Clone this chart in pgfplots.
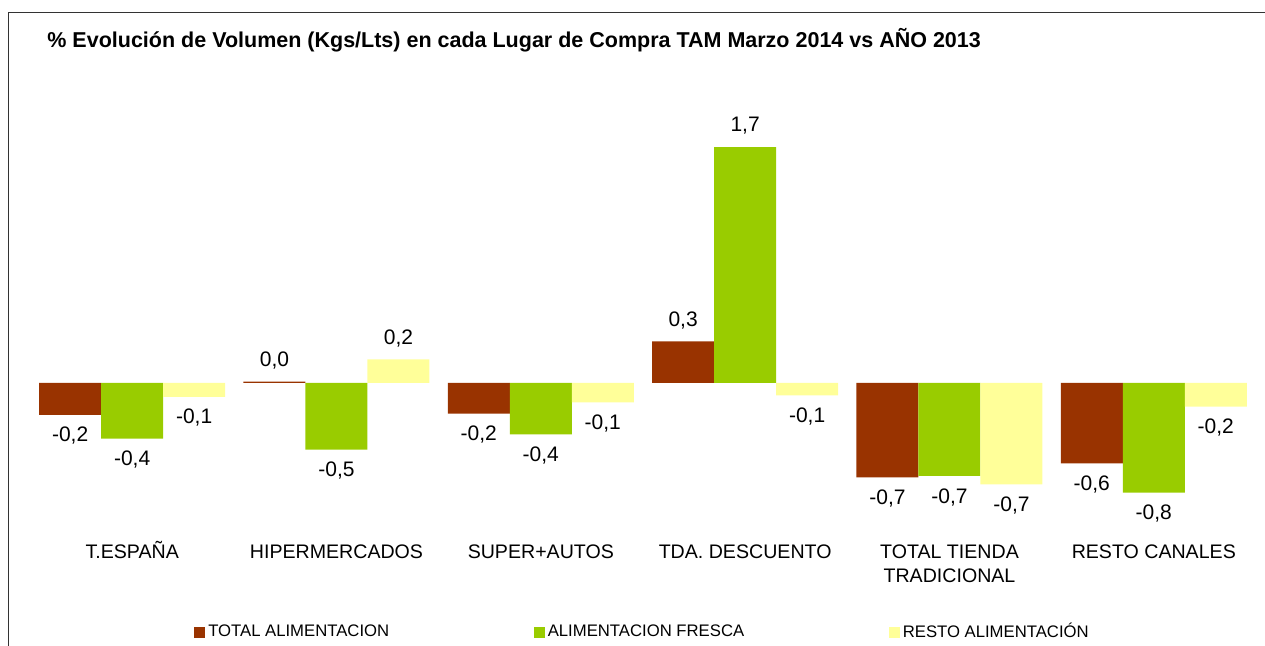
\documentclass[border=0pt]{standalone}
\usepackage{pgfplots}
\pgfplotsset{compat=1.18}
\usepackage{fontspec}
\setmainfont{Liberation Sans}
\definecolor{cbrown}{HTML}{993300}
\definecolor{cgreen}{HTML}{99CC00}
\definecolor{cyellow}{HTML}{FFFF99}
\definecolor{frame}{HTML}{333333}
\begin{document}
\begin{tikzpicture}
\path[use as bounding box] (0,0) rectangle (632.5pt,323pt);
\draw[line width=0.8pt, color=frame] (632.5pt,316.75pt) -- (4.25pt,316.75pt) -- (4.25pt,0pt);
\node[anchor=west, font=\bfseries\fontsize{10.75}{12}\selectfont, inner sep=0pt] at (23.5pt,303pt)
  {\% Evolución de Volumen (Kgs/Lts) en cada Lugar de Compra TAM Marzo 2014 vs AÑO 2013};
\begin{axis}[
  at={(15pt,62.1pt)}, anchor=south west,
  scale only axis, width=613pt, height=208.2pt,
  xmin=-0.5, xmax=5.5, ymin=-1, ymax=2,
  ybar=0pt, bar width=31pt,
  axis line style={draw=none},
  ytick=\empty,
  xtick={0,1,2,3,4,5},
  xticklabels={T.ESPAÑA, HIPERMERCADOS, SUPER+AUTOS, TDA. DESCUENTO, {\begin{tabular}[t]{@{}c@{}}TOTAL TIENDA\\TRADICIONAL\end{tabular}}, RESTO CANALES},
  major tick length=0pt,
  xticklabel style={font=\fontsize{9.8}{12}\selectfont, anchor=base, yshift=-18.6pt},
  clip=false,
  nodes near coords,
  every node near coord/.append style={font=\fontsize{10.5}{12}\selectfont, inner xsep=2pt, inner ysep=6pt, color=black},
  /pgf/number format/fixed,
  /pgf/number format/fixed zerofill,
  /pgf/number format/precision=1,
  /pgf/number format/use comma,
  /pgf/number format/assume math mode=true,
  legend columns=3,
  legend style={draw=none, at={(0.5,-0.2647)}, anchor=center,
    font=\fontsize{8.35}{10}\selectfont,
    nodes={inner xsep=1.5pt},
    /tikz/every even column/.append style={column sep=70.8pt}},
  legend image code/.code={\fill[#1] (0pt,-2.75pt) rectangle (5.5pt,2.75pt);},
]
\addplot[fill=cbrown, draw=none] coordinates {(0,-0.23) (1,0.01) (2,-0.22) (3,0.30) (4,-0.68) (5,-0.58)};
\addplot[fill=cgreen, draw=none] coordinates {(0,-0.40) (1,-0.48) (2,-0.37) (3,1.70) (4,-0.67) (5,-0.79)};
\addplot[fill=cyellow, draw=none] coordinates {(0,-0.10) (1,0.17) (2,-0.14) (3,-0.09) (4,-0.73) (5,-0.17)};
\legend{TOTAL ALIMENTACION, ALIMENTACION FRESCA, RESTO ALIMENTACIÓN}
\end{axis}
\end{tikzpicture}
\end{document}
